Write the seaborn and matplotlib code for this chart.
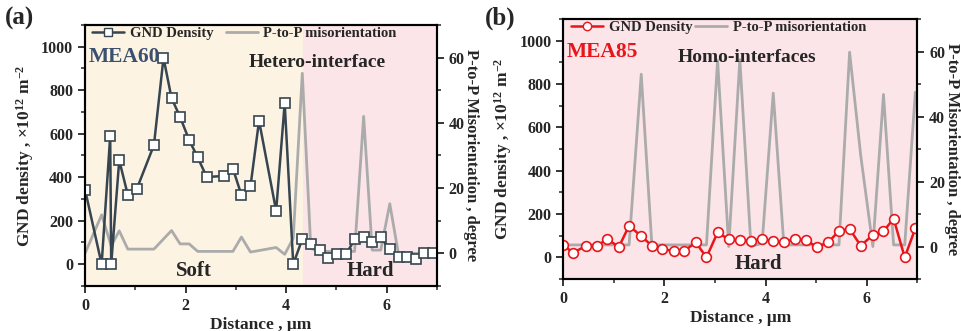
import numpy as np
import pandas as pd
import seaborn as sns
import matplotlib.pyplot as plt
from matplotlib.lines import Line2D
from matplotlib.ticker import MultipleLocator

sns.set_style("ticks")
plt.rcParams['font.family'] = ['Liberation Serif', 'DejaVu Serif']
plt.rcParams['font.weight'] = 'bold'
plt.rcParams['axes.labelweight'] = 'bold'
plt.rcParams['mathtext.fontset'] = 'custom'
plt.rcParams['mathtext.rm'] = 'Liberation Serif:bold'
plt.rcParams['mathtext.it'] = 'Liberation Serif:bold'
plt.rcParams['mathtext.bf'] = 'Liberation Serif:bold'

#### MEA60 (a)
dist_a = [0, 0.33, 0.50, 0.52, 0.68, 0.85, 1.03, 1.37, 1.56, 1.72, 1.89, 2.07, 2.24, 2.42,
          2.76, 2.94, 3.11, 3.29, 3.46, 3.80, 3.97, 4.14, 4.32, 4.49, 4.67, 4.84, 5.01,
          5.19, 5.36, 5.54, 5.71, 5.88, 6.06, 6.24, 6.41, 6.58, 6.75, 6.92]
gnd_a = [343, 0, 589, 0, 478, 319, 347, 548, 949, 764, 677, 571, 491, 401,
         406, 440, 318, 359, 660, 245, 741, 0, 116, 95, 65, 29, 46,
         46, 114, 123, 100, 123, 69, 35, 33, 24, 51, 51]
dist_a_mis = [0, 0.33, 0.52, 0.68, 0.85, 1.37, 1.72, 1.89, 2.07, 2.24, 2.94, 3.11, 3.29,
              3.80, 3.97, 4.14, 4.32, 4.49, 4.67, 5.36, 5.54, 5.71, 5.88, 6.06, 6.23, 7.0]
mis_a = [0, 11.8, 2.3, 6.9, 1.3, 1.3, 7.0, 2.9, 2.9, 0.6, 0.6, 5.0, 0.4,
         1.8, -0.3, 4.6, 55.2, 1.5, 0.6, 0.6, 42.0, 1.0, 1.0, 15.2, 0.0, 0.0]

#### MEA85 (b)
dist_b = [0, 0.19, 0.44, 0.66, 0.87, 1.10, 1.30, 1.54, 1.75, 1.96, 2.19, 2.39, 2.62,
          2.83, 3.05, 3.27, 3.49, 3.71, 3.93, 4.15, 4.36, 4.58, 4.80, 5.01, 5.24, 5.45,
          5.66, 5.88, 6.12, 6.33, 6.53, 6.75, 6.96]
gnd_b = [57, 21, 52, 54, 83, 49, 146, 98, 54, 37, 30, 30, 69,
         0, 115, 83, 80, 75, 86, 74, 69, 86, 78, 49, 69, 123,
         131, 54, 103, 120, 179, 0, 134]
dist_b_mis = [0, 1.30, 1.54, 1.75, 2.83, 3.05, 3.27, 3.49, 3.71, 3.93, 4.15, 4.36,
              5.45, 5.66, 5.88, 6.12, 6.33, 6.53, 6.75, 6.96, 7.04]
mis_b = [0.5, 0.5, 53, 0.5, 0.5, 57.3, 0, 57.5, 0, 1, 47.2, 0.5,
         0.5, 59.8, 28, 0, 46.8, 0.5, 0.5, 47.5, 42]

soft_end = 4.33
cream = '#FDF3E3'
pink = '#FCE5E9'
dark = '#36454F'
red = '#E8161B'
grey = '#ABABAB'

df_a = pd.DataFrame({'Distance': dist_a, 'GND': gnd_a})
df_a_mis = pd.DataFrame({'Distance': dist_a_mis, 'Mis': mis_a})
df_b = pd.DataFrame({'Distance': dist_b, 'GND': gnd_b})
df_b_mis = pd.DataFrame({'Distance': dist_b_mis, 'Mis': mis_b})

fig = plt.figure(figsize=(9.61, 3.31), dpi=100)
fig.patch.set_facecolor('white')


def style_axes(ax, ax2):
    ax.set_xlim(0, 7)
    ax.set_ylim(-100, 1100)
    ax2.set_ylim(-10, 70)
    ax.xaxis.set_major_locator(MultipleLocator(2))
    ax.xaxis.set_minor_locator(MultipleLocator(1))
    ax.yaxis.set_major_locator(MultipleLocator(200))
    ax.yaxis.set_minor_locator(MultipleLocator(100))
    ax2.yaxis.set_major_locator(MultipleLocator(20))
    ax2.yaxis.set_minor_locator(MultipleLocator(10))
    for a in (ax, ax2):
        for s in a.spines.values():
            s.set_linewidth(1.5)
            s.set_color('black')
        a.tick_params(which='major', length=5, width=1.3, labelsize=11.5, direction='out')
        a.tick_params(which='minor', length=3, width=1.1, direction='out')
    ax.set_xlabel('Distance , μm', fontsize=12.5, labelpad=2)
    ax.set_ylabel('GND density , ×10$^{12}$ m$^{-2}$', fontsize=12.5, labelpad=4)
    ax2.set_ylabel('P-to-P Misorientation , degree', fontsize=12, rotation=270,
                   va='center', ha='center')
    ax2.yaxis.set_label_coords(1.097, 0.5)
    for lbl in ax.get_xticklabels() + ax.get_yticklabels() + ax2.get_yticklabels():
        lbl.set_fontweight('bold')


# ---------- panel (a)
ax_a = fig.add_axes([0.0885, 0.136, 0.3663, 0.7885])
ax_a2 = ax_a.twinx()
ax_a.set_zorder(ax_a2.get_zorder() + 1)
ax_a.patch.set_visible(False)
ax_a2.patch.set_visible(True)
ax_a2.set_facecolor(cream)
ax_a2.axvspan(soft_end, 7, color=pink, lw=0, zorder=0)

sns.lineplot(data=df_a_mis, x='Distance', y='Mis', ax=ax_a2, color=grey, lw=2,
             sort=False, estimator=None)
sns.lineplot(data=df_a, x='Distance', y='GND', ax=ax_a, color=dark, lw=1.8, sort=False,
             estimator=None, marker='s', markersize=7, markerfacecolor='white',
             markeredgecolor=dark, markeredgewidth=1.2)
style_axes(ax_a, ax_a2)

h1 = Line2D([], [], color=dark, lw=1.8, marker='s', markersize=6, markerfacecolor='white',
            markeredgecolor=dark)
h2 = Line2D([], [], color=grey, lw=2)
ax_a.legend([h1, h2], ['GND Density', 'P-to-P misorientation'], loc='upper left', ncol=2,
            frameon=False, fontsize=10.5, handlelength=2.2, columnspacing=0.8,
            borderaxespad=0.1, handletextpad=0.4, bbox_to_anchor=(0.0, 1.02))
ax_a.text(0.01, 0.86, 'MEA60', transform=ax_a.transAxes, fontsize=15.5, color='#3B5070',
          fontweight='bold')
ax_a.text(0.66, 0.84, 'Hetero-interface', transform=ax_a.transAxes, fontsize=14,
          fontweight='bold', ha='center')
ax_a.text(0.31, 0.04, 'Soft', transform=ax_a.transAxes, fontsize=15, fontweight='bold',
          ha='center')
ax_a.text(0.81, 0.04, 'Hard', transform=ax_a.transAxes, fontsize=15, fontweight='bold',
          ha='center')
fig.text(0.005, 0.925, '(a)', fontsize=18, fontweight='bold')

# ---------- panel (b)
ax_b = fig.add_axes([0.5862, 0.157, 0.3684, 0.7855])
ax_b2 = ax_b.twinx()
ax_b.set_zorder(ax_b2.get_zorder() + 1)
ax_b.patch.set_visible(False)
ax_b2.patch.set_visible(True)
ax_b2.set_facecolor(pink)

sns.lineplot(data=df_b_mis, x='Distance', y='Mis', ax=ax_b2, color=grey, lw=2,
             sort=False, estimator=None)
sns.lineplot(data=df_b, x='Distance', y='GND', ax=ax_b, color=red, lw=1.8, sort=False,
             estimator=None, marker='o', markersize=7, markerfacecolor='white',
             markeredgecolor=red, markeredgewidth=1.2)
style_axes(ax_b, ax_b2)

h1 = Line2D([], [], color=red, lw=1.8, marker='o', markersize=6, markerfacecolor='white',
            markeredgecolor=red)
ax_b.legend([h1, h2], ['GND Density', 'P-to-P misorientation'], loc='upper left', ncol=2,
            frameon=False, fontsize=10.5, handlelength=2.2, columnspacing=0.2,
            borderaxespad=0.1, handletextpad=0.4, bbox_to_anchor=(0.0, 1.02))
ax_b.text(0.01, 0.855, 'MEA85', transform=ax_b.transAxes, fontsize=15.5, color=red,
          fontweight='bold')
ax_b.text(0.52, 0.835, 'Homo-interfaces', transform=ax_b.transAxes, fontsize=14,
          fontweight='bold', ha='center')
ax_b.text(0.55, 0.04, 'Hard', transform=ax_b.transAxes, fontsize=15, fontweight='bold',
          ha='center')
fig.text(0.505, 0.925, '(b)', fontsize=18, fontweight='bold')

plt.savefig('out.png', dpi=100)
plt.close()
